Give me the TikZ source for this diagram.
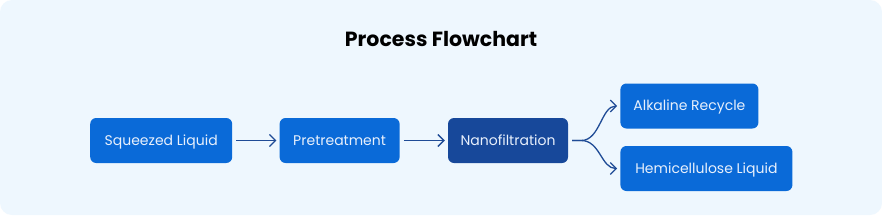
\documentclass[tikz,border=0pt]{standalone}
\usepackage{fontspec}
\setmainfont{Poppins}
\usetikzlibrary{arrows.meta,positioning,calc}
\definecolor{bgpanel}{HTML}{EEF7FE}
\definecolor{stepblue}{HTML}{0A6AD8}
\definecolor{stepdark}{HTML}{17489A}
\definecolor{flowline}{HTML}{1F4B96}
\definecolor{boxtext}{HTML}{E8F0FC}

\begin{document}
\begin{tikzpicture}[
  x=1pt, y=-1pt,
  node distance=47pt,
  box/.style={rounded corners=6pt, fill=stepblue, text=boxtext, minimum height=45pt, inner xsep=0pt, text height=10pt, text depth=1pt, font=\fontsize{14}{16}\selectfont, anchor=west},
  darkbox/.style={box, fill=stepdark},
  arr/.style={-{Straight Barb[length=6pt,width=12pt]}, line width=1.3pt, draw=flowline, shorten >=3pt, shorten <=4pt},
  heading/.style={font=\bfseries\fontsize{20.5}{24}\selectfont, text=black},
]
% --- Panel ---
\fill[white] (0,0) rectangle (882,215);
\fill[bgpanel, rounded corners=12pt] (0,0) rectangle (882,215);
\useasboundingbox (0,0) rectangle (882,215);

\node[heading] (title) at (441,39) {Process Flowchart};

% --- Main row ---
\node[box, minimum width=142pt] (squeezed) at (90,140.5) {Squeezed Liquid};
\node[box, minimum width=120pt, right=47pt of squeezed] (pretreat) {Pretreatment};
\node[darkbox, minimum width=120pt, right=48pt of pretreat] (nano) {Nanofiltration};

% --- Outputs ---
\node[box, minimum width=138pt] (alkaline) at ($(nano.east)+(52,-34.5)$) {Alkaline Recycle};
\node[box, minimum width=172pt] (hemi) at ($(nano.east)+(52,28)$) {Hemicellulose Liquid};

% --- Arrows ---
\draw[arr] (squeezed) -- (pretreat);
\draw[arr] (pretreat) -- (nano);

% --- Split ---
\coordinate (split) at ($(nano.east)+(13,0)$);
\draw[arr] (nano.east) -- (split) .. controls +(19,0) and +(-19,0) .. (alkaline.west);
\draw[arr] (nano.east) -- (split) .. controls +(19,0) and +(-19,0) .. (hemi.west);
\end{tikzpicture}
\end{document}
